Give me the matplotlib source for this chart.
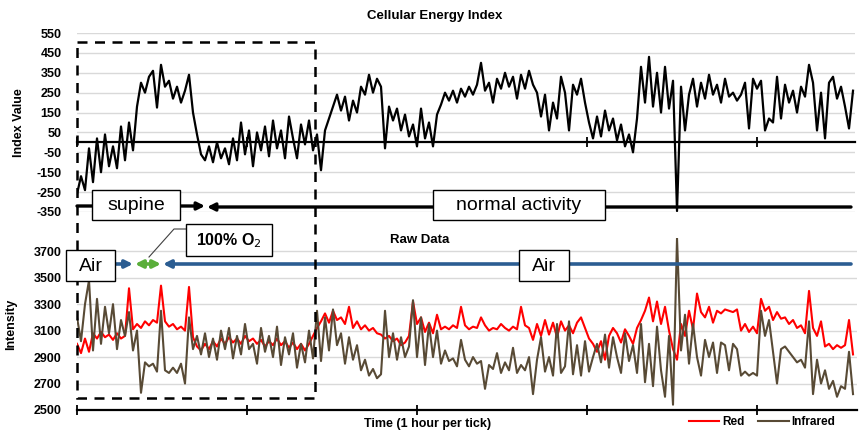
import numpy as np
import matplotlib
matplotlib.use("Agg")
import matplotlib.pyplot as plt
from matplotlib.patches import Rectangle

plt.rcParams["font.family"] = ["Liberation Sans", "DejaVu Sans"]
plt.rcParams["axes.unicode_minus"] = False

SAMPLE_H = 0.02353

cellular_energy_index = [
    -260, -170, -240, -30, -200, 20, -150, 40, -120, -20,
    -130, 80, -90, 100, -40, 180, 300, 250, 330, 360,
    175, 390, 280, 310, 220, 280, 200, 260, 340, 150,
    40, -60, -90, -20, -100, 0, -80, -30, -110, 20,
    -90, 100, -60, 60, -120, 50, -40, 80, -70, 110,
    -30, 60, -80, 130, 20, -80, 90, -10, 110, -40,
    40, -140, 60, 120, 180, 240, 160, 230, 110, 210,
    150, 280, 240, 340, 250, 320, 280, -30, 180, 110,
    170, 60, 140, 30, 90, -20, 170, 20, 100, -20,
    140, 190, 250, 210, 260, 200, 270, 230, 280, 240,
    290, 400, 260, 300, 200, 320, 270, 350, 280, 330,
    220, 340, 270, 360, 290, 250, 130, 240, 60, 200,
    120, 330, 250, 60, 290, 240, 320, 200, 100, 20,
    130, 30, 160, 60, 120, 10, 90, -20, 40, -50,
    120, 380, 200, 430, 180, 350, 150, 380, 170, 310,
    -345, 280, 60, 240, 320, 180, 300, 220, 340, 240,
    290, 200, 320, 230, 250, 210, 240, 300, 70, 320,
    270, 310, 60, 120, 100, 330, 120, 290, 200, 260,
    150, 280, 230, 390, 300, 60, 250, 20, 300, 330,
    220, 280, 180, 70, 260,
]

red_intensity = [
    3000, 2930, 3040, 2940, 3080, 3040, 3090, 3050, 3070, 3030,
    3080, 3040, 3060, 3420, 3110, 3150, 3120, 3170, 3140, 3180,
    3160, 3440, 3170, 3130, 3150, 3110, 3130, 3100, 3430, 3050,
    2980, 2950, 3000, 2960, 3020, 2980, 3040, 3000, 3050, 3010,
    3040, 3000, 3060, 3020, 3040, 3000, 3030, 2980, 3020, 2990,
    3040, 2990, 3020, 2970, 3010, 2960, 3000, 2950, 3000, 3060,
    3120, 3170, 3230, 3160, 3250, 3180, 3200, 3150, 3280, 3120,
    3170, 3110, 3140, 3100, 3120, 3080, 3070, 3040, 3060, 3020,
    3040, 2990, 3010, 3060, 3320, 3150, 3200, 3090, 3160, 3080,
    3220, 3110, 3130, 3110, 3140, 3120, 3280, 3140, 3110, 3130,
    3120, 3200, 3140, 3100, 3120, 3110, 3150, 3120, 3100, 3130,
    3110, 3280, 3140, 3120, 3030, 3150, 3060, 3180, 3070, 3160,
    3050, 3170, 3100, 3140, 3080, 3160, 3200, 3120, 3040, 3000,
    2940, 3020, 2880, 3060, 3120, 3080, 3010, 3110, 3060, 3000,
    3120, 3180, 3250, 3350, 3170, 3320, 3150, 3280, 3100, 2960,
    2880, 3150, 3060, 3250, 3110, 3380, 3240, 3200, 3280, 3160,
    3250, 3230, 3260, 3250, 3240, 3260, 3100, 3150, 3090, 3130,
    3080, 3340, 3250, 3280, 3180, 3240, 3190, 3200, 3150, 3180,
    3120, 3140, 3080, 3400, 3120, 3060, 3170, 2980, 3000, 2960,
    2990, 2970, 2990, 3180, 2920,
]

infrared_intensity = [
    3200, 3020, 3300, 3480, 2950, 3340, 3000, 3280, 3080, 3300,
    2960, 3180, 3060, 3240, 2950, 3100, 2630, 2860, 2830, 2850,
    2790, 3250, 2800, 2780, 2820, 2780, 2850, 2700, 3200, 2960,
    3060, 2920, 3080, 2900, 3040, 2880, 3100, 2960, 3120, 2890,
    3060, 2920, 3150, 2960, 3000, 2850, 3120, 2940, 3060, 2900,
    3130, 2840, 3050, 2920, 3080, 2820, 3000, 2860, 3100, 2890,
    3250, 2870, 3200, 2950, 3260, 2990, 3080, 2850, 3050, 2880,
    2990, 2800, 2880, 2760, 2810, 2740, 2770, 3250, 2900, 3080,
    2880, 3050, 2900, 2980, 3330, 2900, 3200, 2840, 3150, 2900,
    3100, 2850, 2950, 2870, 2890, 2830, 3030, 2880, 2830, 2900,
    2850, 2870, 2660, 2840, 2810, 2930, 2780, 2860, 2800, 2970,
    2780, 2840, 2800, 2900, 2620, 2880, 3050, 2790, 2900, 2760,
    3150, 2780, 2830, 3170, 2770, 2990, 2760, 3020, 2790, 2900,
    3000, 2860, 3070, 2820, 3050, 2900, 2780, 3080, 2870, 2990,
    2780, 3150, 2710, 3000, 2680, 3130, 2800, 2600, 3060, 2540,
    3800, 2950, 3220, 2850, 3150, 2900, 2760, 3030, 2900, 3010,
    2780, 3010, 2990, 2800, 3000, 2960, 2760, 2790, 2760, 2780,
    2760, 3250, 3060, 3180, 2940, 2700, 2960, 2980, 2940, 2900,
    2860, 2880, 2820, 3170, 2620, 2880, 2700, 2800, 2660, 2720,
    2600, 2680, 2660, 2940, 2620,
]

index_ticks = list(range(-350, 551, 100))
intensity_ticks = list(range(2500, 3701, 200))
hour_ticks = [0, 1, 2, 3, 4]

W, H = 867, 432
fig = plt.figure(figsize=(W / 100, H / 100), dpi=100)


def px_axes(left, top, right, bottom):
    return fig.add_axes([left / W, 1 - bottom / H, (right - left) / W, (bottom - top) / H])


def style_axis(ax):
    for s in ("top", "right", "left"):
        ax.spines[s].set_visible(False)
    ax.spines["bottom"].set_linewidth(1.6)
    ax.yaxis.grid(True, color="#D9D9D9", lw=1)
    ax.set_axisbelow(True)
    ax.set_xticks(hour_ticks)
    ax.set_xticklabels([])
    ax.tick_params(axis="x", direction="inout", length=7, width=1.3)
    ax.tick_params(axis="y", length=0, pad=11, labelsize=9)
    for lab in ax.get_yticklabels():
        lab.set_fontweight("bold")


# top panel: cellular energy index
ax1 = px_axes(77, 33, 855, 212)
t1 = np.arange(len(cellular_energy_index)) * SAMPLE_H
ax1.plot(t1, cellular_energy_index, color="black", lw=1.6)
ax1.set_ylim(-350, 550)
ax1.set_yticks(index_ticks)
ax1.set_xlim(0, 778 / 170)
ax1.spines["bottom"].set_position(("data", 0))
style_axis(ax1)
ax1.set_ylabel("Index Value", fontsize=9, fontweight="bold")
ax1.yaxis.set_label_coords(-0.067, 0.5)

# bottom panel: raw data
ax2 = px_axes(77, 238, 857, 410)
t2 = np.arange(len(red_intensity)) * SAMPLE_H
t3 = np.arange(len(infrared_intensity)) * SAMPLE_H
ax2.plot(t2, red_intensity, color="#FF0000", lw=1.5, label="Red")
ax2.plot(t3, infrared_intensity, color="#584A35", lw=1.5, label="Infrared")
ax2.set_ylim(2500, 3800)
ax2.set_yticks(intensity_ticks)
ax2.set_xlim(0, 780 / 170)
style_axis(ax2)
ax2.set_ylabel("Intensity", fontsize=9, fontweight="bold")
ax2.yaxis.set_label_coords(-0.077, 0.5)
ax2.set_xlabel("Time (1 hour per tick)", fontsize=9, fontweight="bold")
ax2.xaxis.set_label_coords(0.45, -0.045)

fig.legend(handles=ax2.get_lines(), loc="center", bbox_to_anchor=(762 / W, 1 - 422 / H),
           ncol=2, frameon=False, handlelength=2.6, columnspacing=1.2, handletextpad=0.2,
           prop={"size": 8.5, "weight": "bold"})

fig.text(435 / W, 1 - 16 / H, "Cellular Energy Index", ha="center", va="center",
         fontsize=9.5, fontweight="bold")
fig.text(420 / W, 1 - 240 / H, "Raw Data", ha="center", va="center",
         fontsize=9.5, fontweight="bold")

# overlay for annotations in pixel space
ov = fig.add_axes([0, 0, 1, 1], zorder=10)
ov.set_xlim(0, W)
ov.set_ylim(H, 0)
ov.axis("off")
ov.patch.set_alpha(0)


def arrow(x0, x1, y, color, style="-|>", lw=2.4):
    ov.annotate("", xy=(x1, y), xytext=(x0, y),
                arrowprops=dict(arrowstyle=style, color=color, lw=lw,
                                mutation_scale=11, shrinkA=0, shrinkB=0))


def box(x0, y0, x1, y1, text, size=14, weight="normal"):
    ov.add_patch(Rectangle((x0, y0), x1 - x0, y1 - y0, fc="white", ec="black", lw=1, zorder=5))
    ov.text((x0 + x1) / 2, (y0 + y1) / 2 + 1, text, ha="center", va="center",
            fontsize=size, fontweight=weight, zorder=6)


# activity arrows
arrow(77, 205, 206, "black")
arrow(851, 207, 207, "black")
box(92, 190, 180, 220, "supine")
box(433, 190, 605, 220, "normal activity")

# gas arrows
blue = "#2B5D92"
arrow(100, 133, 264, blue, lw=2.6)
arrow(135, 161, 264, "#5AAE3A", style="<|-|>", lw=2.6)
arrow(851, 163, 264, blue, lw=2.6)
box(66, 250, 115, 281, "Air")
box(519, 250, 569, 281, "Air")
ov.plot([149, 174, 186], [257, 229, 229], color="#404040", lw=0.8)
box(186, 224, 272, 256, "100% O$_2$", size=11.5, weight="bold")

# dashed highlight region
ov.add_patch(Rectangle((77, 42), 238, 356, fill=False, ec="black", lw=1.8,
                       ls=(0, (4, 3)), zorder=4))

fig.savefig("out.png", dpi=100)
